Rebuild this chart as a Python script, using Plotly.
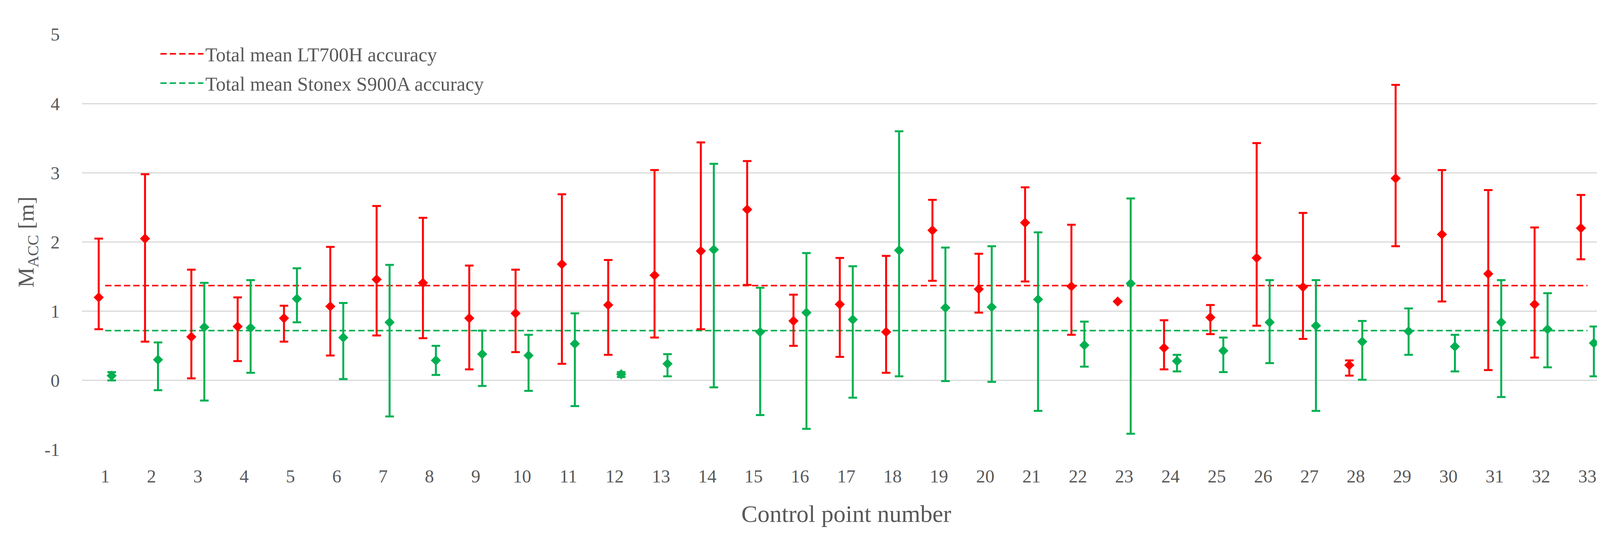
import plotly.graph_objects as go

points = list(range(1, 34))

# LT700H accuracy: mean, upper and lower bound of error bar (m)
lt_mean = [1.20, 2.05, 0.63, 0.78, 0.90, 1.07, 1.46, 1.41, 0.90, 0.97, 1.68,
           1.09, 1.52, 1.87, 2.47, 0.86, 1.10, 0.70, 2.17, 1.32, 2.28, 1.36,
           1.14, 0.47, 0.91, 1.77, 1.35, 0.22, 2.92, 2.11, 1.54, 1.10, 2.20]
lt_upper = [2.05, 2.98, 1.60, 1.20, 1.08, 1.93, 2.52, 2.35, 1.66, 1.60, 2.69,
            1.74, 3.04, 3.44, 3.17, 1.24, 1.77, 1.80, 2.61, 1.83, 2.79, 2.25,
            1.14, 0.87, 1.09, 3.43, 2.42, 0.29, 4.27, 3.04, 2.75, 2.21, 2.68]
lt_lower = [0.74, 0.56, 0.03, 0.28, 0.56, 0.36, 0.65, 0.61, 0.16, 0.41, 0.24,
            0.37, 0.62, 0.74, 1.38, 0.50, 0.34, 0.11, 1.44, 0.98, 1.43, 0.66,
            1.14, 0.16, 0.67, 0.79, 0.60, 0.07, 1.94, 1.14, 0.15, 0.33, 1.75]

# Stonex S900A accuracy
st_mean = [0.07, 0.30, 0.77, 0.76, 1.18, 0.62, 0.84, 0.29, 0.38, 0.36, 0.53,
           0.09, 0.24, 1.89, 0.70, 0.98, 0.88, 1.88, 1.05, 1.06, 1.17, 0.51,
           1.40, 0.28, 0.43, 0.84, 0.79, 0.56, 0.71, 0.49, 0.84, 0.74, 0.54]
st_upper = [0.12, 0.55, 1.41, 1.45, 1.62, 1.12, 1.67, 0.50, 0.72, 0.66, 0.97,
            0.12, 0.38, 3.13, 1.34, 1.84, 1.65, 3.60, 1.92, 1.94, 2.14, 0.85,
            2.63, 0.37, 0.62, 1.45, 1.45, 0.86, 1.04, 0.66, 1.45, 1.26, 0.78]
st_lower = [0.00, -0.14, -0.29, 0.11, 0.84, 0.02, -0.52, 0.08, -0.08, -0.15, -0.37,
            0.05, 0.06, -0.10, -0.50, -0.70, -0.25, 0.06, -0.01, -0.02, -0.44, 0.20,
            -0.77, 0.13, 0.12, 0.25, -0.44, 0.01, 0.37, 0.13, -0.24, 0.19, 0.06]

lt_total_mean = 1.37
st_total_mean = 0.72

y_ticks = [-1, 0, 1, 2, 3, 4, 5]

RED = "#FF0000"
GREEN = "#00B050"
TXT = "#595959"
FONT = "Liberation Serif"
off = 0.14

fig = go.Figure()

fig.add_trace(go.Scatter(
    x=[points[0], points[-1]], y=[lt_total_mean, lt_total_mean],
    mode="lines", line=dict(color=RED, width=4, dash="16px,8px"),
    name="Total mean LT700H accuracy", legendgroup="a"))
fig.add_trace(go.Scatter(
    x=[points[0], points[-1]], y=[st_total_mean, st_total_mean],
    mode="lines", line=dict(color=GREEN, width=4, dash="16px,8px"),
    name="Total mean Stonex S900A accuracy", legendgroup="b"))

fig.add_trace(go.Scatter(
    x=[p - off for p in points], y=lt_mean, mode="markers",
    marker=dict(symbol="diamond", size=20, color=RED),
    error_y=dict(type="data", symmetric=False,
                 array=[u - m for u, m in zip(lt_upper, lt_mean)],
                 arrayminus=[m - l for m, l in zip(lt_mean, lt_lower)],
                 color=RED, thickness=5, width=11),
    showlegend=False))
fig.add_trace(go.Scatter(
    x=[p + off for p in points], y=st_mean, mode="markers",
    marker=dict(symbol="diamond", size=20, color=GREEN),
    error_y=dict(type="data", symmetric=False,
                 array=[u - m for u, m in zip(st_upper, st_mean)],
                 arrayminus=[m - l for m, l in zip(st_mean, st_lower)],
                 color=GREEN, thickness=5, width=11),
    showlegend=False))

fig.update_layout(
    width=4140, height=1372,
    paper_bgcolor="white", plot_bgcolor="white",
    margin=dict(l=202, r=25, t=80, b=229, autoexpand=False),
    font=dict(family=FONT, size=47, color=TXT),
    legend=dict(x=0.050, y=0.990, xanchor="left", yanchor="top",
                bgcolor="rgba(0,0,0,0)", font=dict(size=50, color=TXT),
                itemwidth=110, tracegroupgap=7),
    xaxis=dict(range=[0.5, 33.5], tickmode="array", tickvals=points,
               ticktext=[str(p) for p in points], showgrid=False,
               zeroline=False, showline=False, ticks="",
               ticklabelstandoff=36,
               title=dict(text="Control point number", font=dict(size=62, color=TXT),
                          standoff=48)),
    yaxis=dict(range=[-1, 5], tickmode="array", tickvals=y_ticks,
               ticktext=[str(v) for v in y_ticks],
               showgrid=True, gridcolor="#D9D9D9", gridwidth=3,
               zeroline=False, showline=False, ticks="",
               ticklabelstandoff=56,
               title=dict(text="M<sub>ACC</sub> [m]", font=dict(size=58, color=TXT),
                          standoff=8)),
)

fig.write_html("out.html")
